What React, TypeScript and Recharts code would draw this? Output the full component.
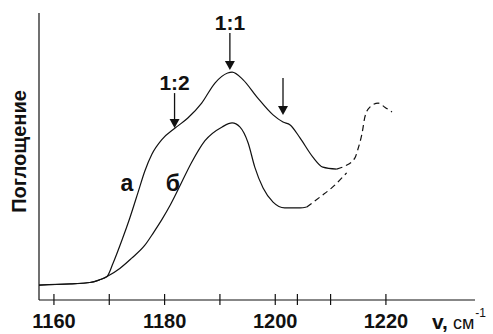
import { LineChart, Line, XAxis, YAxis, ReferenceDot } from 'recharts';

// curve "а" (solid part, then dashed continuation)
const A_X = [1157.3, 1162.9, 1166.5, 1168.2, 1169.6, 1170.7, 1172.3, 1173.7, 1175.2, 1176.4, 1177.7, 1179.5, 1181.9, 1184.2, 1186.7, 1189.1, 1191.4, 1192.2, 1194.2, 1196.7, 1199.6, 1201.4, 1202.7, 1204.5, 1206.8, 1208.6, 1211.1];
const A_Y = [5.2, 5.6, 6.1, 7.0, 8.2, 12.9, 20.9, 28.5, 37.5, 44.8, 50.8, 55.9, 59.9, 63.4, 68.6, 75.6, 79.1, 79.4, 76.7, 70.7, 64.5, 62.0, 61.0, 56.4, 49.8, 46.3, 45.6];
const A_DASH_X = [1211.1, 1212.6, 1214.4, 1214.9, 1215.7, 1216.2, 1217.1, 1218.6, 1219.8, 1221.1];
const A_DASH_Y = [45.6, 46.7, 49.5, 52.3, 58.2, 63.8, 67.2, 68.6, 67.2, 65.5];

// curve "б"
const B_X = [1157.3, 1166.5, 1169.6, 1171.9, 1174.0, 1176.4, 1178.0, 1179.5, 1181.0, 1182.4, 1184.9, 1187.3, 1190.4, 1192.2, 1193.6, 1195.1, 1196.3, 1197.8, 1199.6, 1201.7, 1204.5, 1205.7];
const B_Y = [5.2, 6.1, 8.2, 11.0, 14.5, 19.0, 23.5, 28.0, 33.0, 38.3, 48.0, 55.5, 60.3, 61.7, 60.3, 54.7, 46.3, 39.0, 34.1, 32.1, 32.1, 32.4];
const B_DASH_X = [1205.7, 1208.1, 1210.4, 1212.9];
const B_DASH_Y = [32.4, 35.9, 39.4, 44.3];

const X_TICKS = [1160, 1170, 1180, 1190, 1200, 1204, 1210, 1220];
const X_LABELS = [1160, 1180, 1200, 1220];

// arrows: x, y of the tip, shaft length, label
const ARROWS = [
  { x: 1191.8, y: 80.1, len: 37, text: '1:1' },
  { x: 1181.8, y: 59.9, len: 35, text: '1:2' },
  { x: 1201.4, y: 64.5, len: 37, text: '' },
];
const CURVE_LABELS = [
  { x: 1173.2, y: 40.8, text: 'а' },
  { x: 1181.5, y: 40.8, text: 'б' },
];

const zip = (xs: number[], ys: number[]) => xs.map((x, i) => ({ x, y: ys[i] }));

const FONT = 'Liberation Sans, Arial, sans-serif';
const INK = '#111';

function Tick(props: any) {
  const { x, y, payload } = props;
  const v = payload.value;
  return (
    <g>
      <line x1={x} x2={x} y1={y - 6} y2={y + 5} stroke={INK} strokeWidth={1.2} />
      {X_LABELS.includes(v) && (
        <text x={x} y={y + 28} textAnchor="middle" fontFamily={FONT} fontSize={20} fontWeight="bold" fill={INK}>
          {v}
        </text>
      )}
    </g>
  );
}

function Arrow({ cx, cy, len, text }: any) {
  return (
    <g>
      <line x1={cx} x2={cx} y1={cy - len} y2={cy - 7} stroke={INK} strokeWidth={1.3} />
      <polygon points={`${cx - 5},${cy - 9} ${cx + 5},${cy - 9} ${cx},${cy}`} fill={INK} />
      {text && (
        <text x={cx} y={cy - len - 3} textAnchor="middle" fontFamily={FONT} fontSize={21} fontWeight="bold" fill={INK}>
          {text}
        </text>
      )}
    </g>
  );
}

export default function App() {
  return (
    <div style={{ position: 'absolute', left: 0, top: 0, width: 493, height: 334, background: '#fff' }}>
      <LineChart width={493} height={334} margin={{ top: 13, right: 18, left: 0, bottom: 0 }}>
        <XAxis
          type="number"
          dataKey="x"
          domain={[1157.3, 1236.1]}
          allowDataOverflow
          ticks={X_TICKS}
          interval={0}
          height={34}
          tickSize={0}
          tickMargin={0}
          tickLine={false}
          tick={<Tick />}
          axisLine={{ stroke: INK, strokeWidth: 1.2 }}
          label={{
            content: ({ viewBox }: any) => (
              <text x={viewBox.x + viewBox.width - 43} y={viewBox.y + 29} fontFamily={FONT} fill={INK}>
                <tspan fontSize={21} fontWeight="bold">v,</tspan>
                <tspan fontSize={18} dx={5}>см</tspan>
                <tspan fontSize={12} dy={-12} dx={1}>-1</tspan>
              </text>
            ),
          }}
        />
        <YAxis
          type="number"
          domain={[0, 100]}
          allowDataOverflow
          width={39}
          tick={false}
          tickLine={false}
          axisLine={{ stroke: INK, strokeWidth: 1.2 }}
          label={{
            content: ({ viewBox }: any) => {
              const tx = viewBox.x + 19;
              const ty = viewBox.y + viewBox.height / 2 - 5;
              return (
                <text
                  x={tx}
                  y={ty}
                  transform={`rotate(-90 ${tx} ${ty})`}
                  textAnchor="middle"
                  dominantBaseline="central"
                  fontFamily={FONT}
                  fontSize={20}
                  fontWeight="bold"
                  fill={INK}
                >
                  Поглощение
                </text>
              );
            },
          }}
        />
        <Line data={zip(A_X, A_Y)} dataKey="y" type="monotone" stroke={INK} strokeWidth={1.2} dot={false} isAnimationActive={false} />
        <Line data={zip(A_DASH_X, A_DASH_Y)} dataKey="y" type="monotone" stroke={INK} strokeWidth={1.2} strokeDasharray="6 4" dot={false} isAnimationActive={false} />
        <Line data={zip(B_X, B_Y)} dataKey="y" type="monotone" stroke={INK} strokeWidth={1.2} dot={false} isAnimationActive={false} />
        <Line data={zip(B_DASH_X, B_DASH_Y)} dataKey="y" type="monotone" stroke={INK} strokeWidth={1.2} strokeDasharray="6 4" dot={false} isAnimationActive={false} />
        {ARROWS.map((a, i) => (
          <ReferenceDot
            key={`arr${i}`}
            x={a.x}
            y={a.y}
            ifOverflow="visible"
            shape={(p: any) => <Arrow cx={p.cx} cy={p.cy} len={a.len} text={a.text} />}
          />
        ))}
        {CURVE_LABELS.map((l) => (
          <ReferenceDot
            key={l.text}
            x={l.x}
            y={l.y}
            ifOverflow="visible"
            shape={(p: any) => (
              <text x={p.cx} y={p.cy} textAnchor="middle" dominantBaseline="central" fontFamily={FONT} fontSize={23} fontWeight="bold" fill={INK}>
                {l.text}
              </text>
            )}
          />
        ))}
      </LineChart>
    </div>
  );
}
